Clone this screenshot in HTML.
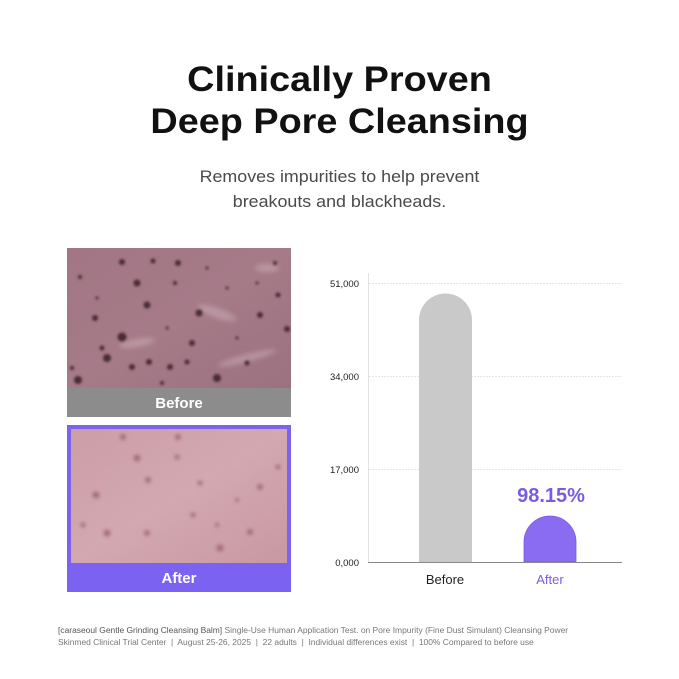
<!DOCTYPE html>
<html><head><meta charset="utf-8"><style>
html,body{margin:0;padding:0;background:#fff;}
body{width:679px;height:679px;position:relative;overflow:hidden;font-family:"Liberation Sans",sans-serif;}
.abs{position:absolute;}
.t{position:absolute;left:0;width:679px;text-align:center;white-space:nowrap;}
</style></head><body>

<div class="t" style="top:59px;font-size:35px;font-weight:bold;color:#111;line-height:42px;transform:scaleX(1.08);transform-origin:339.5px 0;">Clinically Proven<br>Deep Pore Cleansing</div>

<div class="t" style="top:164px;font-size:17px;color:#4a4a4a;line-height:25px;transform:scaleX(1.05);transform-origin:339.5px 0;">Removes impurities to help prevent<br>breakouts and blackheads.</div>

<!-- Before image -->
<svg class="abs" style="left:67px;top:248px" width="224" height="169" viewBox="0 0 224 169">
<defs>
<filter id="b1"><feGaussianBlur stdDeviation="1.2"/></filter>
<filter id="b2"><feGaussianBlur stdDeviation="2.5"/></filter>
<linearGradient id="g1" x1="0" y1="0" x2="1" y2="1"><stop offset="0" stop-color="#a27684"/><stop offset="0.5" stop-color="#a67b88"/><stop offset="1" stop-color="#9c7180"/></linearGradient>
</defs>
<rect width="224" height="140" fill="url(#g1)"/>
<g filter="url(#b2)" fill="#e6d6dc" opacity="0.3">
<ellipse cx="150" cy="65" rx="20" ry="5" transform="rotate(20 150 65)"/>
<ellipse cx="70" cy="95" rx="18" ry="4" transform="rotate(-10 70 95)"/>
<ellipse cx="180" cy="110" rx="30" ry="4" transform="rotate(-15 180 110)"/>
<ellipse cx="200" cy="20" rx="12" ry="4"/>
</g>
<g filter="url(#b1)" fill="#4a2a35">
<circle cx="55" cy="14" r="3"/><circle cx="86" cy="13" r="2.5"/><circle cx="111" cy="15" r="3"/>
<circle cx="70" cy="35" r="3.5"/><circle cx="108" cy="35" r="2"/><circle cx="80" cy="57" r="3.5"/>
<circle cx="132" cy="65" r="3.5"/><circle cx="193" cy="67" r="3"/><circle cx="220" cy="81" r="3"/>
<circle cx="28" cy="70" r="3"/><circle cx="55" cy="89" r="4.5"/><circle cx="40" cy="110" r="4"/>
<circle cx="82" cy="114" r="3"/><circle cx="125" cy="95" r="3"/><circle cx="103" cy="119" r="3"/>
<circle cx="150" cy="130" r="4"/><circle cx="11" cy="132" r="4"/><circle cx="180" cy="115" r="2.5"/>
<circle cx="211" cy="47" r="2.5"/><circle cx="208" cy="15" r="2"/><circle cx="13" cy="29" r="2"/>
<circle cx="65" cy="119" r="3"/><circle cx="35" cy="100" r="2.5"/><circle cx="120" cy="114" r="2.5"/>
<circle cx="160" cy="40" r="1.5"/><circle cx="190" cy="35" r="1.5"/><circle cx="30" cy="50" r="1.5"/>
<circle cx="140" cy="20" r="1.5"/><circle cx="100" cy="80" r="1.5"/><circle cx="170" cy="90" r="1.5"/>
<circle cx="5" cy="120" r="2"/><circle cx="95" cy="135" r="2"/>
</g>
<rect y="140" width="224" height="29" fill="#8b8c8b"/>
<text x="112" y="160" text-anchor="middle" font-family="Liberation Sans, sans-serif" font-size="15" font-weight="bold" fill="#fff">Before</text>
</svg>

<!-- After image -->
<svg class="abs" style="left:67px;top:425px" width="224" height="167" viewBox="0 0 224 167">
<defs>
<filter id="b3"><feGaussianBlur stdDeviation="1.8"/></filter>
<linearGradient id="g2" x1="0" y1="0" x2="1" y2="1"><stop offset="0" stop-color="#cc9ea7"/><stop offset="0.5" stop-color="#d3a8b0"/><stop offset="1" stop-color="#c998a2"/></linearGradient>
</defs>
<rect width="224" height="167" fill="#7c62f0"/>
<rect x="4" y="4" width="216" height="134" fill="url(#g2)"/>
<g filter="url(#b3)" fill="#9a5f6c" opacity="0.8">
<circle cx="56" cy="12" r="3"/><circle cx="111" cy="12" r="3"/><circle cx="70" cy="33" r="3.5"/>
<circle cx="110" cy="32" r="2.5"/><circle cx="81" cy="55" r="3"/><circle cx="29" cy="70" r="3.5"/>
<circle cx="193" cy="62" r="3"/><circle cx="133" cy="58" r="2.5"/><circle cx="40" cy="108" r="3.5"/>
<circle cx="80" cy="108" r="3"/><circle cx="126" cy="90" r="2.5"/><circle cx="153" cy="123" r="3.5"/>
<circle cx="183" cy="107" r="3"/><circle cx="16" cy="100" r="2.5"/><circle cx="211" cy="42" r="2.5"/>
<circle cx="150" cy="100" r="2"/><circle cx="170" cy="75" r="2"/>
</g>
<text x="112" y="158" text-anchor="middle" font-family="Liberation Sans, sans-serif" font-size="15" font-weight="bold" fill="#fff">After</text>
</svg>

<!-- Chart -->
<svg class="abs" style="left:0;top:0" width="679" height="679" viewBox="0 0 679 679">
<g stroke="#e6e6e6" stroke-width="1" stroke-dasharray="2,1">
<line x1="369" y1="283.5" x2="622" y2="283.5"/>
<line x1="369" y1="376.5" x2="622" y2="376.5"/>
<line x1="369" y1="469.5" x2="622" y2="469.5"/>
</g>
<line x1="368.5" y1="273" x2="368.5" y2="562" stroke="#e2e2e2" stroke-width="1"/>
<path d="M419 562 V320 A26.5 26.5 0 0 1 472 320 V562 Z" fill="#c9c9c9"/>
<path d="M524 562 V542 A26 26 0 0 1 576 542 V562 Z" fill="#8a6cf2" stroke="#7a5ce0" stroke-width="0.8"/>
<line x1="368" y1="562.5" x2="622" y2="562.5" stroke="#888" stroke-width="1"/>
<g font-family="Liberation Sans, sans-serif" font-size="9.5" fill="#222" text-anchor="end">
<text x="359" y="287">51,000</text>
<text x="359" y="380">34,000</text>
<text x="359" y="473">17,000</text>
<text x="359" y="566">0,000</text>
</g>
<text x="551" y="502" text-anchor="middle" font-family="Liberation Sans, sans-serif" font-size="20" font-weight="bold" fill="#7a5ce0">98.15%</text>
<text x="445" y="584" text-anchor="middle" font-family="Liberation Sans, sans-serif" font-size="13" fill="#222">Before</text>
<text x="550" y="584" text-anchor="middle" font-family="Liberation Sans, sans-serif" font-size="13" fill="#7a5ce0">After</text>
</svg>

<div class="abs" style="left:58px;top:624px;font-size:8.45px;color:#777;line-height:12px;white-space:nowrap;">
<span style="color:#555">[caraseoul Gentle Grinding Cleansing Balm]</span> Single-Use Human Application Test. on Pore Impurity (Fine Dust Simulant) Cleansing Power<br>
Skinmed Clinical Trial Center &nbsp;|&nbsp; August 25-26, 2025 &nbsp;|&nbsp; 22 adults &nbsp;|&nbsp; Individual differences exist &nbsp;|&nbsp; 100% Compared to before use
</div>

</body></html>
